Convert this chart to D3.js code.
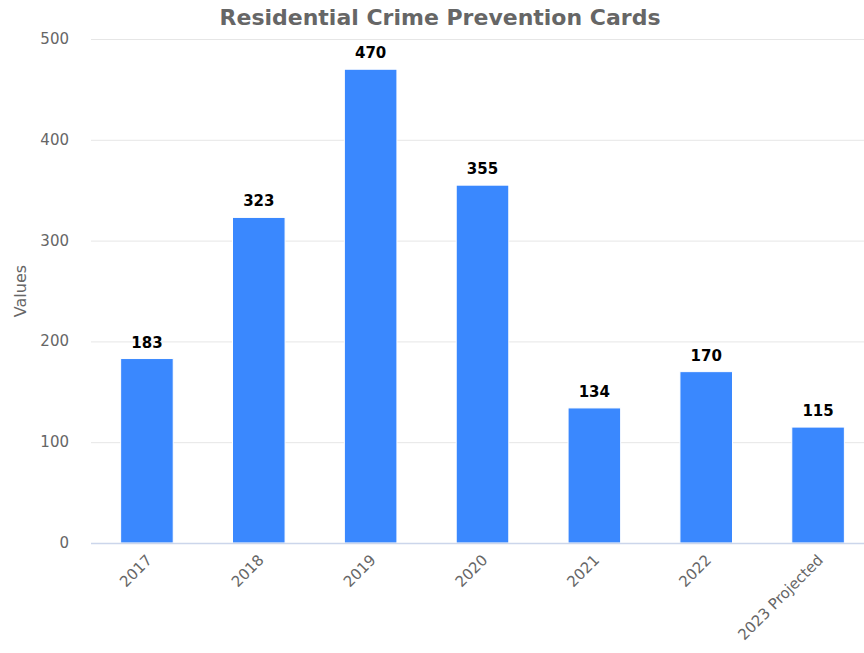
<!DOCTYPE html>
<html lang="en">
<head>
    <meta charset="UTF-8">
    <title>Residential Crime Prevention Cards</title>
    <script src="https://d3js.org/d3.v7.min.js"></script>
    <style>
        body { margin: 0; background: #fff; overflow: hidden; }
        text { font-family: "DejaVu Sans", sans-serif; }
    </style>
</head>
<body>
    <script>

    // chart data
    const categories = ["2017", "2018", "2019", "2020", "2021", "2022", "2023 Projected"]
    const values = [183, 323, 470, 355, 134, 170, 115]
    const yTicks = [0, 100, 200, 300, 400, 500]

    const width = 864, height = 653
    // plot area runs a little past the right edge, like the original
    const margin = {top: 39, bottom: 110, left: 91}
    const plotRight = 874

    var svg = d3.select("body")
        .append("svg")
        .attr("width", width)
        .attr("height", height)

    const x = d3.scaleBand()
        .domain(categories)
        .range([margin.left, plotRight])
        .paddingInner(0.53)
        .paddingOuter(0.265)

    const y = d3.scaleLinear()
        .domain([0, 500])
        .range([height - margin.bottom, margin.top])

    // gridlines
    svg.append("g")
        .selectAll("line")
        .data(yTicks)
        .enter()
        .append("line")
        .attr("x1", margin.left)
        .attr("x2", plotRight)
        .attr("y1", d => y(d) + 0.5)
        .attr("y2", d => y(d) + 0.5)
        .attr("stroke", "#e6e6e6")

    // y labels
    svg.append("g")
        .selectAll("text")
        .data(yTicks)
        .enter()
        .append("text")
        .attr("x", 69)
        .attr("y", d => y(d) + 5)
        .attr("text-anchor", "end")
        .attr("fill", "#666")
        .style("font-size", "15px")
        .text(d => d)

    svg.append("text")
        .attr("transform", "translate(26," + ((margin.top + height - margin.bottom) / 2) + ") rotate(-90)")
        .attr("text-anchor", "middle")
        .attr("fill", "#666")
        .style("font-size", "16px")
        .text("Values")

    // bars
    svg.append("g")
        .selectAll("rect")
        .data(values)
        .enter()
        .append("rect")
        .attr("x", (d, i) => x(categories[i]))
        .attr("y", d => y(d))
        .attr("width", x.bandwidth())
        .attr("height", d => y(0) - y(d))
        .attr("fill", "#3a88fe")
        .attr("stroke", "#ffffff")
        .attr("stroke-width", 1)

    // axis line
    svg.append("line")
        .attr("x1", margin.left)
        .attr("x2", plotRight)
        .attr("y1", y(0) + 0.5)
        .attr("y2", y(0) + 0.5)
        .attr("stroke", "#ccd6eb")
        .attr("stroke-width", 1.5)

    // data labels
    svg.append("g")
        .selectAll("text")
        .data(values)
        .enter()
        .append("text")
        .attr("x", (d, i) => x(categories[i]) + x.bandwidth() / 2)
        .attr("y", d => y(d) - 11)
        .attr("text-anchor", "middle")
        .attr("fill", "#000")
        .style("font-size", "15px")
        .style("font-weight", "bold")
        .text(d => d)

    // x labels
    svg.append("g")
        .selectAll("text")
        .data(categories)
        .enter()
        .append("text")
        .attr("transform", d => "translate(" + (x(d) + x.bandwidth() / 2 + 6) + "," + (y(0) + 18) + ") rotate(-45)")
        .attr("text-anchor", "end")
        .attr("fill", "#666")
        .style("font-size", "15px")
        .text(d => d)

    // title
    svg.append("text")
        .attr("x", 440)
        .attr("y", 25)
        .attr("text-anchor", "middle")
        .attr("fill", "#666")
        .style("font-size", "22px")
        .style("font-weight", "bold")
        .text("Residential Crime Prevention Cards")

    </script>
</body>
</html>
